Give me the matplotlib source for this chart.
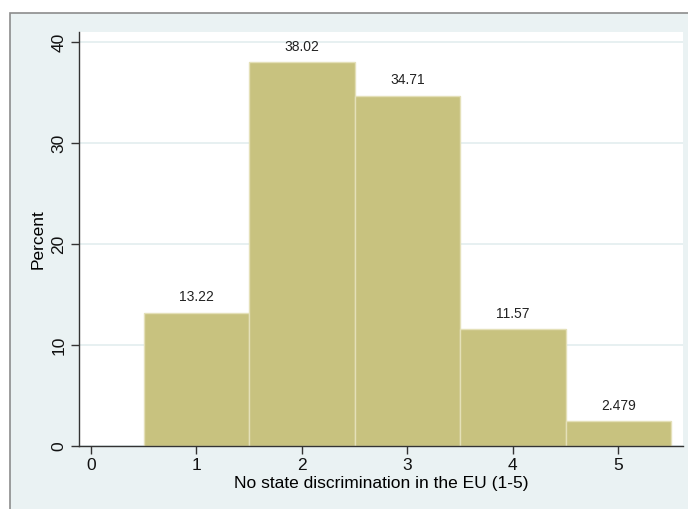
import matplotlib
matplotlib.use('Agg')
import matplotlib.pyplot as plt
from matplotlib.patches import Rectangle

plt.rcParams['font.family'] = ['Liberation Sans', 'DejaVu Sans']

# histogram data (percent per category)
categories = [1, 2, 3, 4, 5]
percent = [13.22, 38.02, 34.71, 11.57, 2.479]
bar_labels = ['13.22', '38.02', '34.71', '11.57', '2.479']
xticks = [0, 1, 2, 3, 4, 5]
yticks = [0, 10, 20, 30, 40]

bg = '#EAF2F3'
bar_color = '#C8C27F'

fig = plt.figure(figsize=(6.88, 5.09), dpi=100)
fig.patch.set_facecolor('white')
# Stata-style graph region (cropped at right/bottom)
fig.patches.append(Rectangle((10/688, -0.01), 1.0, 1 - 13/509 + 0.01,
                             transform=fig.transFigure, facecolor=bg,
                             edgecolor='#8C8C8C', linewidth=1.2, zorder=-10))

ax = fig.add_axes([79/688, 63/509, 604/688, 414/509])
ax.set_facecolor('white')
ax.bar(categories, percent, width=1.0, color=bar_color,
       edgecolor='#E4E0B8', linewidth=1.0, zorder=2)
for x, y, s in zip(categories, percent, bar_labels):
    ax.annotate(s, (x, y), xytext=(0, 6), textcoords='offset points',
                ha='center', va='bottom', fontsize=10, color='#222222')

ax.set_xlim(-0.114, 5.614)
ax.set_ylim(0, 41)
ax.set_xticks(xticks)
ax.set_yticks(yticks)
ax.set_yticklabels([str(t) for t in yticks], rotation=90, va='center')
ax.tick_params(axis='both', labelsize=12.5, length=6, width=1,
               color='#333333', labelcolor='#111111', pad=3)
ax.grid(axis='y', color='#E3EDEF', linewidth=1.2, zorder=1)
ax.set_axisbelow(True)
for side in ['top', 'right']:
    ax.spines[side].set_visible(False)
for side in ['left', 'bottom']:
    ax.spines[side].set_color('#333333')
    ax.spines[side].set_linewidth(1.0)

ax.set_xlabel('No state discrimination in the EU (1-5)', fontsize=12.5, labelpad=2)
ax.set_ylabel('Percent', fontsize=12.5, labelpad=4)

fig.savefig('out.png', dpi=100)
